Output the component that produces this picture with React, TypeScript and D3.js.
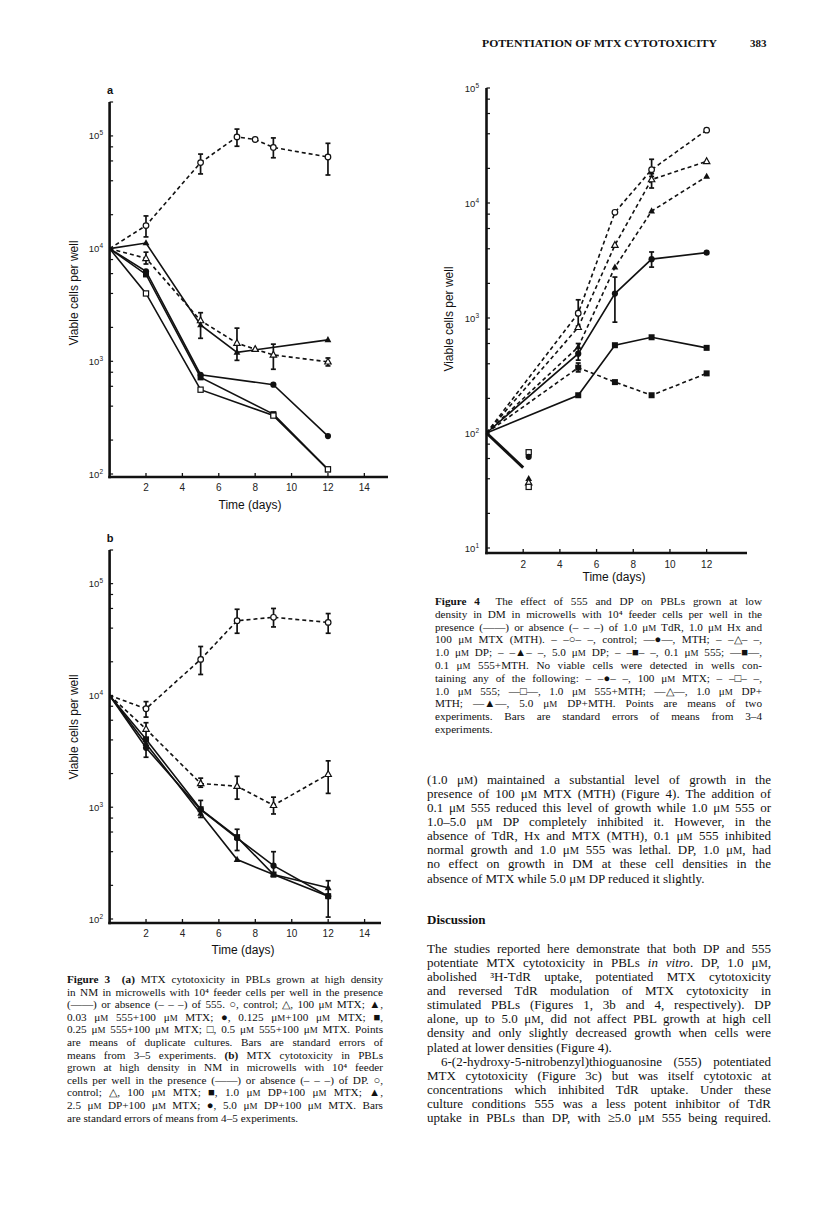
import React, { useEffect, useRef } from 'react';
import * as d3 from 'd3';

type Pt = [number, number];
type Err = [number, number, number];

// ---------- Figure 3a data (day, viable cells per well) ----------
const fig3aControl: Pt[] = [[0, 1e4], [2, 1.6e4], [5, 5.8e4], [7, 9.8e4], [8, 9.3e4], [9, 7.9e4], [12, 6.5e4]];
const fig3aMtx: Pt[] = [[0, 1e4], [2, 8.2e3], [5, 2.3e3], [7, 1.45e3], [8, 1.28e3], [9, 1.14e3], [12, 9.9e2]];
const fig3a003: Pt[] = [[0, 1e4], [2, 1.12e4], [5, 2.1e3], [7, 1.2e3], [12, 1.55e3]];
const fig3a0125: Pt[] = [[0, 1e4], [2, 6.3e3], [5, 7.6e2], [9, 6.2e2], [12, 2.17e2]];
const fig3a025: Pt[] = [[0, 1e4], [2, 5.9e3], [5, 7.2e2], [9, 3.4e2], [12, 1.1e2]];
const fig3a05: Pt[] = [[0, 1e4], [2, 4.0e3], [5, 5.6e2], [9, 3.3e2], [12, 1.1e2]];
const fig3aControlErr: Err[] = [[2, 1.27e4, 1.95e4], [5, 4.6e4, 6.9e4], [7, 8.1e4, 1.15e5], [9, 6.4e4, 9.6e4], [12, 4.5e4, 8.6e4]];
const fig3aMtxErr: Err[] = [[2, 7.3e3, 9.3e3], [5, 1.6e3, 2.7e3], [7, 1.02e3, 1.97e3], [9, 8.5e2, 1.42e3], [12, 9.1e2, 1.07e3]];

// ---------- Figure 3b data ----------
const fig3bControl: Pt[] = [[0, 1e4], [2, 7.6e3], [5, 2.1e4], [7, 4.66e4], [9, 5.0e4], [12, 4.5e4]];
const fig3bMtx: Pt[] = [[0, 1e4], [2, 5.0e3], [5, 1.63e3], [7, 1.54e3], [9, 1.04e3], [12, 1.97e3]];
const fig3bDp1: Pt[] = [[0, 1e4], [2, 4.05e3], [5, 9.6e2], [7, 5.4e2], [9, 2.5e2], [12, 1.6e2]];
const fig3bDp25: Pt[] = [[0, 1e4], [2, 3.7e3], [5, 8.8e2], [7, 3.4e2], [9, 2.5e2], [12, 1.9e2]];
const fig3bDp5: Pt[] = [[0, 1e4], [2, 3.4e3], [5, 9.5e2], [7, 5.3e2], [9, 3.0e2], [12, 1.6e2]];
const fig3bControlErr: Err[] = [[2, 6.4e3, 8.8e3], [5, 1.54e4, 2.74e4], [7, 3.6e4, 5.9e4], [9, 4.1e4, 6.0e4], [12, 3.6e4, 5.4e4]];
const fig3bMtxErr: Err[] = [[2, 4.0e3, 5.7e3], [5, 1.51e3, 1.82e3], [7, 1.18e3, 1.89e3], [9, 8.7e2, 1.23e3], [12, 1.33e3, 2.6e3]];
const fig3bDp5Err: Err[] = [[2, 2.8e3, 4.0e3], [5, 8.1e2, 1.15e3], [7, 4.1e2, 6.35e2], [9, 2.4e2, 4.0e2], [12, 1.04e2, 2.2e2]];

// ---------- Figure 4 data ----------
const fig4Control: Pt[] = [[0, 1e2], [5, 1.1e3], [7, 8.3e3], [9, 1.95e4], [12, 4.3e4]];
const fig4Dp1: Pt[] = [[0, 1e2], [5, 8.3e2], [7, 4.3e3], [9, 1.6e4], [12, 2.3e4]];
const fig4Dp5: Pt[] = [[0, 1e2], [5, 5.6e2], [7, 2.76e3], [9, 8.5e3], [12, 1.7e4]];
const fig4Mth: Pt[] = [[0, 1e2], [5, 4.9e2], [7, 1.63e3], [9, 3.25e3], [12, 3.7e3]];
const fig4S555: Pt[] = [[0, 1e2], [5, 3.7e2], [7, 2.77e2], [9, 2.13e2], [12, 3.3e2]];
const fig4S555Mth: Pt[] = [[0, 1e2], [5, 2.13e2], [7, 5.8e2], [9, 6.8e2], [12, 5.5e2]];
const fig4Lethal: Pt[] = [[0, 1e2], [2, 50]];
const fig4LethalMarkers: { v: Pt; m: string }[] = [
  { v: [2.3, 68], m: 'os' }, { v: [2.3, 62], m: 'fc' }, { v: [2.3, 40], m: 'ft' },
  { v: [2.3, 37], m: 'ot' }, { v: [2.3, 34], m: 'os' },
];
const fig4ControlErr: Err[] = [[5, 8.5e2, 1.44e3], [9, 1.7e4, 2.4e4]];
const fig4Dp1Err: Err[] = [[9, 1.35e4, 1.8e4]];
const fig4MthErr: Err[] = [[5, 4.3e2, 6.0e2], [7, 9.2e2, 2.27e3], [9, 2.77e3, 3.75e3]];
const fig4S555Err: Err[] = [[5, 3.4e2, 4.06e2]];

const xTicks3 = [2, 4, 6, 8, 10, 12, 14];
const xTicks4 = [2, 4, 6, 8, 10, 12];
const decades3 = [2, 3, 4, 5];
const decades4 = [1, 2, 3, 4, 5];

// ---------- Text ----------
const header = 'POTENTIATION OF MTX CYTOTOXICITY';
const pageNo = '383';
const fig3Caption = [
  '**Figure 3**  **(a)** MTX cytotoxicity in PBLs grown at high density',
  'in NM in microwells with 10⁴ feeder cells per well in the presence',
  '(——) or absence (– – –) of 555. ○, control; △, 100 μM MTX; ▲,',
  '0.03 μM 555+100 μM MTX; ●, 0.125 μM+100 μM MTX; ■,',
  '0.25 μM 555+100 μM MTX; □, 0.5 μM 555+100 μM MTX. Points',
  'are means of duplicate cultures. Bars are standard errors of',
  'means from 3–5 experiments. **(b)** MTX cytotoxicity in PBLs',
  'grown at high density in NM in microwells with 10⁴ feeder',
  'cells per well in the presence (——) or absence (– – –) of DP. ○,',
  'control; △, 100 μM MTX; ■, 1.0 μM DP+100 μM MTX; ▲,',
  '2.5 μM DP+100 μM MTX; ●, 5.0 μM DP+100 μM MTX. Bars',
  'are standard errors of means from 4–5 experiments.¶',
];
const fig4Caption = [
  '**Figure 4**  The effect of 555 and DP on PBLs grown at low',
  'density in DM in microwells with 10⁴ feeder cells per well in the',
  'presence (——) or absence (– – –) of 1.0 μM TdR, 1.0 μM Hx and',
  '100 μM MTX (MTH). – –○– –, control; —●—, MTH; – –△– –,',
  '1.0 μM DP; – –▲– –, 5.0 μM DP; – –■– –, 0.1 μM 555; —■—,',
  '0.1 μM 555+MTH. No viable cells were detected in wells con-',
  'taining any of the following: – –●– –, 100 μM MTX; – –□– –,',
  '1.0 μM 555; —□—, 1.0 μM 555+MTH; —△—, 1.0 μM DP+',
  'MTH; —▲—, 5.0 μM DP+MTH. Points are means of two',
  'experiments. Bars are standard errors of means from 3–4',
  'experiments.¶',
];
const bodyPara1 = [
  '(1.0 μM) maintained a substantial level of growth in the',
  'presence of 100 μM MTX (MTH) (Figure 4). The addition of',
  '0.1 μM 555 reduced this level of growth while 1.0 μM 555 or',
  '1.0–5.0 μM DP completely inhibited it. However, in the',
  'absence of TdR, Hx and MTX (MTH), 0.1 μM 555 inhibited',
  'normal growth and 1.0 μM 555 was lethal. DP, 1.0 μM, had',
  'no effect on growth in DM at these cell densities in the',
  'absence of MTX while 5.0 μM DP reduced it slightly.¶',
];
const discussionTitle = 'Discussion';
const bodyPara2 = [
  'The studies reported here demonstrate that both DP and 555',
  'potentiate MTX cytotoxicity in PBLs __in vitro__. DP, 1.0 μM,',
  'abolished ³H-TdR uptake, potentiated MTX cytotoxicity',
  'and reversed TdR modulation of MTX cytotoxicity in',
  'stimulated PBLs (Figures 1, 3b and 4, respectively). DP',
  'alone, up to 5.0 μM, did not affect PBL growth at high cell',
  'density and only slightly decreased growth when cells were',
  'plated at lower densities (Figure 4).¶',
  '>6-(2-hydroxy-5-nitrobenzyl)thioguanosine (555) potentiated',
  'MTX cytotoxicity (Figure 3c) but was itself cytotoxic at',
  'concentrations which inhibited TdR uptake. Under these',
  'culture conditions 555 was a less potent inhibitor of TdR',
  'uptake in PBLs than DP, with ≥5.0 μM 555 being required.',
];

const SERIF = '"Liberation Serif", "Times New Roman", serif';
const SANS = '"Liberation Sans", Arial, sans-serif';

function renderRich(s: string) {
  const parts = s.split(/(\*\*|__|μM)/);
  let bold = false;
  let ital = false;
  const out: React.ReactNode[] = [];
  parts.forEach((p, i) => {
    if (p === '**') { bold = !bold; return; }
    if (p === '__') { ital = !ital; return; }
    if (p === '') return;
    if (p === 'μM') {
      out.push(<tspan key={i} fontWeight={bold ? 'bold' : undefined}>μ</tspan>);
      out.push(<tspan key={i + 'm'} fontSize="0.8em">M</tspan>);
      return;
    }
    out.push(
      <tspan key={i} fontWeight={bold ? 'bold' : undefined} fontStyle={ital ? 'italic' : undefined}>{p}</tspan>
    );
  });
  return out;
}

function TextBlock({ lines, x, y0, step, width, size, indent = 14 }: { lines: string[]; x: number; y0: number; step: number; width: number; size: number; indent?: number }) {
  return (
    <g fontFamily={SERIF} fontSize={size} fill="#111">
      {lines.map((raw, i) => {
        let s = raw;
        let justify = true;
        let dx = 0;
        if (s.endsWith('¶')) { s = s.slice(0, -1); justify = false; }
        if (s.startsWith('>')) { s = s.slice(1); dx = indent; }
        return (
          <text key={i} x={x + dx} y={y0 + i * step} className={justify ? 'just' : undefined} data-w={width - dx} style={{ whiteSpace: 'pre' }}>
            {renderRich(s)}
          </text>
        );
      })}
    </g>
  );
}

function Marker({ type, cx, cy }: { type: string; cx: number; cy: number }) {
  const sw = 1.2;
  switch (type) {
    case 'oc': return <circle cx={cx} cy={cy} r={2.8} fill="#fff" stroke="#111" strokeWidth={sw} />;
    case 'fc': return <circle cx={cx} cy={cy} r={3.1} fill="#111" />;
    case 'os': return <rect x={cx - 2.6} y={cy - 2.6} width={5.2} height={5.2} fill="#fff" stroke="#111" strokeWidth={sw} />;
    case 'fs': return <rect x={cx - 3} y={cy - 3} width={6} height={6} fill="#111" />;
    case 'ot': return <path d={`M${cx},${cy - 3.6}L${cx + 3.2},${cy + 2.2}L${cx - 3.2},${cy + 2.2}Z`} fill="#fff" stroke="#111" strokeWidth={sw} />;
    case 'ft': return <path d={`M${cx},${cy - 3.8}L${cx + 3.4},${cy + 2.3}L${cx - 3.4},${cy + 2.3}Z`} fill="#111" />;
    default: return null;
  }
}

type Series = { data: Pt[]; marker: string; dashed: boolean; width?: number; skipFirst?: boolean };

type PanelCfg = {
  xDomain: [number, number];
  xRange: [number, number];
  yDomain: [number, number];
  yRange: [number, number];
  axisY: number;
  xTicks: number[];
  decades: number[];
  tickLabelRight: number;
  xTickLabelY: number;
  titlePos: [number, number];
  yLabelPos: [number, number];
  panelLabel?: { text: string; x: number; y: number };
  series: Series[];
  errs: Err[][];
  extra?: { v: Pt; m: string }[];
};

function Panel({ cfg }: { cfg: PanelCfg }) {
  const xs = d3.scaleLinear().domain(cfg.xDomain).range(cfg.xRange);
  const ys = d3.scaleLog().domain(cfg.yDomain).range(cfg.yRange);
  const x0 = xs(0);
  const line = d3.line<Pt>().x(d => xs(d[0])).y(d => ys(d[1]));
  const minor: number[] = [];
  const [lo, hi] = cfg.yDomain;
  for (let e = Math.floor(Math.log10(lo)); e <= Math.ceil(Math.log10(hi)); e++) {
    [1, 2, 4, 6, 8].forEach(m => {
      const v = m * Math.pow(10, e);
      if (v >= lo && v <= hi * 1.001) minor.push(v);
    });
  }
  return (
    <g>
      {/* axes */}
      <line x1={x0} x2={x0} y1={cfg.yRange[1]} y2={cfg.axisY + 1.3} stroke="#111" strokeWidth={2.6} />
      <line x1={x0 - 1.3} x2={cfg.xRange[1]} y1={cfg.axisY} y2={cfg.axisY} stroke="#111" strokeWidth={2.6} />
      {minor.map((v, i) => (
        <line key={i} x1={x0} x2={x0 + 3.5} y1={ys(v)} y2={ys(v)} stroke="#111" strokeWidth={1.2} />
      ))}
      {cfg.xTicks.map(t => (
        <g key={t}>
          <line x1={xs(t)} x2={xs(t)} y1={cfg.axisY} y2={cfg.axisY - 4} stroke="#111" strokeWidth={1.3} />
          <text x={xs(t)} y={cfg.xTickLabelY} textAnchor="middle" fontFamily={SANS} fontSize={10} fill="#222">{t}</text>
        </g>
      ))}
      {cfg.decades.map(e => (
        <text key={e} x={cfg.tickLabelRight} y={ys(Math.pow(10, e)) + 3.5} textAnchor="end" fontFamily={SANS} fontSize={9.5} fill="#222">
          10<tspan fontSize={6.5} dy={-4}>{e}</tspan>
        </text>
      ))}
      <text x={cfg.titlePos[0]} y={cfg.titlePos[1]} textAnchor="middle" fontFamily={SANS} fontSize={12} fill="#111">Time (days)</text>
      <text transform={`translate(${cfg.yLabelPos[0]},${cfg.yLabelPos[1]}) rotate(-90)`} textAnchor="middle" dy={4} fontFamily={SANS} fontSize={12} fill="#111">Viable cells per well</text>
      {cfg.panelLabel && (
        <text x={cfg.panelLabel.x} y={cfg.panelLabel.y} textAnchor="middle" fontFamily={SANS} fontWeight="bold" fontSize={11} fill="#111">{cfg.panelLabel.text}</text>
      )}
      {/* series lines */}
      {cfg.series.map((s, i) => (
        <path key={i} d={line(s.data) || ''} fill="none" stroke="#111" strokeWidth={s.width ?? 1.6} strokeDasharray={s.dashed ? '4 3' : undefined} />
      ))}
      {/* error bars */}
      {cfg.errs.flat().map((e, i) => (
        <g key={i} stroke="#111" strokeWidth={1.7}>
          <line x1={xs(e[0])} x2={xs(e[0])} y1={ys(e[1])} y2={ys(e[2])} />
          <line x1={xs(e[0]) - 2.5} x2={xs(e[0]) + 2.5} y1={ys(e[1])} y2={ys(e[1])} />
          <line x1={xs(e[0]) - 2.5} x2={xs(e[0]) + 2.5} y1={ys(e[2])} y2={ys(e[2])} />
        </g>
      ))}
      {/* markers */}
      {cfg.series.map((s, i) => (
        <g key={i}>
          {s.data.filter(d => d[0] > 0 && s.marker).map((d, j) => (
            <Marker key={j} type={s.marker} cx={xs(d[0])} cy={ys(d[1])} />
          ))}
        </g>
      ))}
      {cfg.extra && cfg.extra.map((m, i) => <Marker key={i} type={m.m} cx={xs(m.v[0])} cy={ys(m.v[1])} />)}
    </g>
  );
}

const panelA: PanelCfg = {
  xDomain: [0, 15.3], xRange: [109.6, 388], yDomain: [100, 2e5], yRange: [474, 102], axisY: 477,
  xTicks: xTicks3, decades: decades3, tickLabelRight: 103, xTickLabelY: 491,
  titlePos: [250, 509], yLabelPos: [74, 293], panelLabel: { text: 'a', x: 110, y: 94 },
  series: [
    { data: fig3aControl, marker: 'oc', dashed: true },
    { data: fig3aMtx, marker: 'ot', dashed: true },
    { data: fig3a003, marker: 'ft', dashed: false },
    { data: fig3a0125, marker: 'fc', dashed: false },
    { data: fig3a025, marker: 'fs', dashed: false },
    { data: fig3a05, marker: 'os', dashed: false },
  ],
  errs: [fig3aControlErr, fig3aMtxErr],
};

const panelB: PanelCfg = {
  xDomain: [0, 14.9], xRange: [109.6, 381], yDomain: [100, 2e5], yRange: [919, 550], axisY: 923,
  xTicks: xTicks3, decades: decades3, tickLabelRight: 103, xTickLabelY: 937,
  titlePos: [243, 954], yLabelPos: [74, 727], panelLabel: { text: 'b', x: 110, y: 542 },
  series: [
    { data: fig3bControl, marker: 'oc', dashed: true },
    { data: fig3bMtx, marker: 'ot', dashed: true },
    { data: fig3bDp1, marker: 'fs', dashed: false },
    { data: fig3bDp25, marker: 'ft', dashed: false },
    { data: fig3bDp5, marker: 'fc', dashed: false },
  ],
  errs: [fig3bControlErr, fig3bMtxErr, fig3bDp5Err],
};

const panel4: PanelCfg = {
  xDomain: [0, 14.2], xRange: [486.5, 747], yDomain: [10, 1e5], yRange: [548, 88], axisY: 553,
  xTicks: xTicks4, decades: decades4, tickLabelRight: 479, xTickLabelY: 568,
  titlePos: [614, 581], yLabelPos: [449, 319],
  series: [
    { data: fig4Control, marker: 'oc', dashed: true },
    { data: fig4Dp1, marker: 'ot', dashed: true },
    { data: fig4Dp5, marker: 'ft', dashed: true },
    { data: fig4Mth, marker: 'fc', dashed: false },
    { data: fig4S555, marker: 'fs', dashed: true },
    { data: fig4S555Mth, marker: 'fs', dashed: false },
    { data: fig4Lethal, marker: '', dashed: false, width: 3 },
  ],
  errs: [fig4ControlErr, fig4Dp1Err, fig4MthErr, fig4S555Err],
  extra: fig4LethalMarkers,
};

export default function App() {
  const ref = useRef<SVGSVGElement>(null);
  useEffect(() => {
    const svg = ref.current;
    if (!svg) return;
    svg.querySelectorAll('text.just').forEach(node => {
      const t = node as SVGTextElement;
      const target = parseFloat(t.getAttribute('data-w') || '0');
      t.style.wordSpacing = '0px';
      const w = t.getComputedTextLength();
      const txt = t.textContent || '';
      const n = (txt.match(/ /g) || []).length;
      if (n > 0 && target > w) t.style.wordSpacing = `${(target - w) / n}px`;
    });
  }, []);
  return (
    <svg ref={ref} width={816} height={1207} viewBox="0 0 816 1207" style={{ position: 'absolute', left: 0, top: 0, background: '#fff' }}>
      <rect width={816} height={1207} fill="#fff" />
      <text x={482} y={47} fontFamily={SERIF} fontSize={11} fontWeight="bold" fill="#111" textLength={235} lengthAdjust="spacingAndGlyphs">{header}</text>
      <text x={750} y={47} fontFamily={SERIF} fontSize={11} fontWeight="bold" fill="#111">{pageNo}</text>
      <Panel cfg={panelA} />
      <Panel cfg={panelB} />
      <Panel cfg={panel4} />
      <TextBlock lines={fig3Caption} x={67} y0={983} step={12.6} width={316} size={11.2} />
      <TextBlock lines={fig4Caption} x={435} y0={605} step={12.8} width={327} size={11.2} />
      <TextBlock lines={bodyPara1} x={427} y0={783.5} step={14.15} width={344} size={13} />
      <text x={427} y={924} fontFamily={SERIF} fontSize={13} fontWeight="bold" fill="#111">{discussionTitle}</text>
      <TextBlock lines={bodyPara2} x={427} y0={952.5} step={14.15} width={344} size={13} />
    </svg>
  );
}
